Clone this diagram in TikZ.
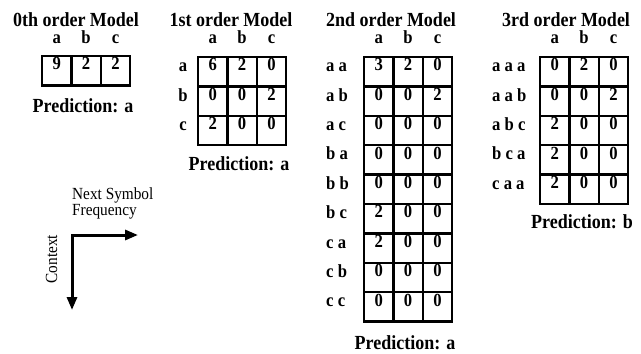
\documentclass[tikz,border=0pt]{standalone}
\usepackage{fontspec}
\setmainfont[FakeStretch=0.9]{Liberation Serif}
\usetikzlibrary{positioning,arrows.meta}

\newcommand{\ttlfont}{\bfseries\fontsize{20}{22}\selectfont}
\newcommand{\cntfont}{\bfseries\fontsize{18.5}{20}\selectfont}
\newcommand{\txtfont}{\fontsize{17}{17}\selectfont}

\tikzset{
  cell/.style={draw, line width=2.4pt, minimum width=29.4pt, minimum height=29.4pt, inner sep=0pt},
  count/.style={font=\cntfont, anchor=base, inner sep=0pt},
  heading/.style={font=\ttlfont, anchor=base, inner sep=0pt},
  plain/.style={font=\txtfont, anchor=base west, inner sep=0pt},
  axis/.style={line width=3pt, line cap=rect, -{Triangle[length=13pt,width=10pt]}},
}

\begin{document}
\begin{tikzpicture}[x=1pt,y=-1pt]
\useasboundingbox (0,0) rectangle (641,354);

% 0th order
\node[heading] (title0) at (76,26) {0th order Model};
\foreach \v [count=\j] in {9,2,2} {
  \node[cell] (a-1-\j) at (42+29.4*\j-14.7,56+14.7) {};
  \node[count] (na-1-\j) at ([yshift=-15pt]a-1-\j.north) {\v};
  \node[count] (ha-\j) at (42+29.4*\j-14.7,43) {\ifcase\j\or a\or b\or c\fi};
}
\node[heading] (pred0) at (83,112) {Prediction: a};

% 1st order
\node[heading] (title1) at (231,26) {1st order Model};
\foreach \row [count=\i] in {{6,2,0},{0,0,2},{2,0,0}} {
  \foreach \v [count=\j] in \row {
    \node[cell] (b-\i-\j) at (198+29.4*\j-14.7,57+29.4*\i-14.7) {};
    \node[count] (nb-\i-\j) at ([yshift=-15pt]b-\i-\j.north) {\v};
  }
}
\foreach \lab [count=\i] in {a,b,c} {
  \node[count] (hb-\i) at (198+29.4*\i-14.7,43) {\lab};
  \node[count] (rb-\i) at (183,57+29.4*\i-14.7) {\lab};
}
\node[heading] (pred1) at (239,170) {Prediction: a};

% 2nd order
\node[heading] (title2) at (391,26) {2nd order Model};
\foreach \row [count=\i] in {{3,2,0},{0,0,2},{0,0,0},{0,0,0},{0,0,0},{2,0,0},{2,0,0},{0,0,0},{0,0,0}} {
  \foreach \v [count=\j] in \row {
    \node[cell] (c-\i-\j) at (364+29.4*\j-14.7,57+29.4*\i-14.7) {};
    \node[count] (nc-\i-\j) at ([yshift=-15pt]c-\i-\j.north) {\v};
  }
}
\foreach \lab [count=\i] in {a,b,c}
  \node[count] (hc-\i) at (364+29.4*\i-14.7,43) {\lab};
\foreach \lab [count=\i] in {a a,a b,a c,b a,b b,b c,c a,c b,c c}
  \node[count, anchor=base west] (rc-\i) at (326,57+29.4*\i-14.7) {\lab};
\node[heading] (pred2) at (405,349) {Prediction: a};

% 3rd order
\node[heading] (title3) at (566,26) {3rd order Model};
\foreach \row [count=\i] in {{0,2,0},{0,0,2},{2,0,0},{2,0,0},{2,0,0}} {
  \foreach \v [count=\j] in \row {
    \node[cell] (d-\i-\j) at (540+29.4*\j-14.7,57+29.4*\i-14.7) {};
    \node[count] (nd-\i-\j) at ([yshift=-15pt]d-\i-\j.north) {\v};
  }
}
\foreach \lab [count=\i] in {a,b,c}
  \node[count] (hd-\i) at (540+29.4*\i-14.7,43) {\lab};
\foreach \lab [count=\i] in {a a a,a a b,a b c,b c a,c a a}
  \node[count, anchor=base west] (rd-\i) at (492,57+29.4*\i-14.7) {\lab};
\node[heading] (pred3) at (582,228) {Prediction: b};

% axes
\coordinate (origin) at (72,235);
\coordinate (xend) at (138,235);
\coordinate (yend) at (72,310);
\draw[axis] (origin) -- (xend);
\draw[axis] (origin) -- (yend);
\node[plain] (nextsym) at (72,199) {Next Symbol};
\node[plain] (freq) at (72,215) {Frequency};
\node[plain, rotate=90, anchor=base] (context) at (57,259) {Context};
\end{tikzpicture}
\end{document}
